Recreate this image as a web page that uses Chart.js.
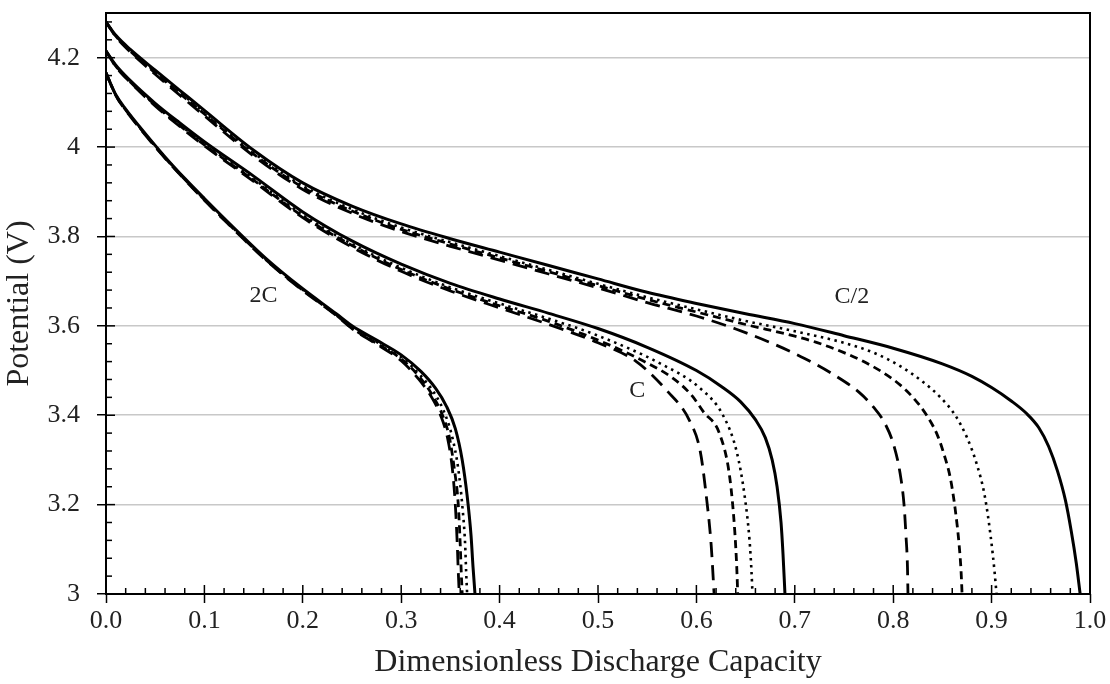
<!DOCTYPE html>
<html>
<head>
<meta charset="utf-8">
<script src="https://cdn.jsdelivr.net/npm/chart.js@4.4.1/dist/chart.umd.min.js"></script>
<style>
  body { margin: 0; background: #fff; }
  #wrap { width: 1110px; height: 684px; }
</style>
</head>
<body>
<div id="wrap"><canvas id="discharge-chart"></canvas></div>
<script>
// [dimensionless capacity, potential V]

// C/2 group
let halfC_solid = [[0,4.28],[0.01,4.25],[0.025,4.218],[0.05,4.172],[0.075,4.127],[0.1,4.082],[0.15,3.993],[0.2,3.92],[0.25,3.868],[0.3,3.828],[0.35,3.795],[0.4,3.765],[0.45,3.735],[0.5,3.705],[0.55,3.675],[0.6,3.65],[0.65,3.627],[0.7,3.605],[0.75,3.578],[0.8,3.55],[0.85,3.515],[0.88,3.487],[0.9,3.462],[0.92,3.432],[0.935,3.405],[0.948,3.372],[0.958,3.33],[0.967,3.275],[0.975,3.21],[0.981,3.14],[0.986,3.07],[0.99,3.0]];
let halfC_dotted = [[0,4.28],[0.01,4.249],[0.025,4.216],[0.05,4.169],[0.075,4.123],[0.1,4.077],[0.15,3.987],[0.2,3.913],[0.25,3.861],[0.3,3.82],[0.35,3.787],[0.4,3.756],[0.45,3.725],[0.5,3.694],[0.55,3.664],[0.6,3.637],[0.65,3.611],[0.7,3.588],[0.75,3.562],[0.78,3.54],[0.807,3.51],[0.83,3.475],[0.848,3.44],[0.863,3.40],[0.875,3.35],[0.885,3.29],[0.893,3.22],[0.899,3.13],[0.903,3.05],[0.905,3.0]];
let halfC_short = [[0,4.28],[0.01,4.248],[0.025,4.214],[0.05,4.166],[0.075,4.12],[0.1,4.074],[0.15,3.984],[0.2,3.91],[0.25,3.857],[0.3,3.816],[0.35,3.783],[0.4,3.752],[0.45,3.721],[0.5,3.69],[0.55,3.659],[0.6,3.631],[0.65,3.603],[0.7,3.577],[0.722,3.563],[0.75,3.54],[0.77,3.52],[0.79,3.495],[0.807,3.468],[0.82,3.44],[0.834,3.40],[0.845,3.355],[0.852,3.31],[0.858,3.26],[0.863,3.19],[0.867,3.11],[0.869,3.05],[0.87,3.0]];
let halfC_long = [[0,4.28],[0.01,4.247],[0.025,4.212],[0.05,4.163],[0.075,4.116],[0.1,4.07],[0.15,3.98],[0.2,3.905],[0.25,3.852],[0.3,3.811],[0.35,3.778],[0.4,3.747],[0.45,3.716],[0.5,3.685],[0.55,3.652],[0.6,3.622],[0.64,3.593],[0.68,3.558],[0.71,3.527],[0.74,3.49],[0.766,3.45],[0.78,3.418],[0.792,3.38],[0.801,3.33],[0.807,3.27],[0.811,3.20],[0.813,3.13],[0.8145,3.06],[0.815,3.0]];

// C group
let oneC_solid = [[0,4.215],[0.01,4.183],[0.025,4.148],[0.05,4.098],[0.075,4.054],[0.1,4.012],[0.15,3.935],[0.2,3.855],[0.25,3.79],[0.3,3.738],[0.35,3.695],[0.4,3.66],[0.45,3.628],[0.5,3.594],[0.55,3.552],[0.6,3.50],[0.625,3.465],[0.645,3.43],[0.66,3.39],[0.67,3.35],[0.677,3.30],[0.682,3.24],[0.686,3.16],[0.688,3.09],[0.69,3.0]];
let oneC_dotted = [[0,4.215],[0.01,4.182],[0.025,4.146],[0.05,4.095],[0.075,4.05],[0.1,4.007],[0.15,3.929],[0.2,3.848],[0.25,3.783],[0.3,3.73],[0.35,3.686],[0.4,3.65],[0.45,3.616],[0.5,3.578],[0.563,3.516],[0.604,3.46],[0.627,3.40],[0.641,3.318],[0.649,3.22],[0.654,3.12],[0.656,3.05],[0.657,3.0]];
let oneC_short = [[0,4.215],[0.01,4.181],[0.025,4.145],[0.05,4.094],[0.075,4.048],[0.1,4.005],[0.15,3.926],[0.2,3.845],[0.25,3.78],[0.3,3.726],[0.35,3.682],[0.4,3.645],[0.45,3.61],[0.5,3.568],[0.54,3.528],[0.576,3.483],[0.595,3.445],[0.607,3.408],[0.624,3.356],[0.634,3.259],[0.639,3.14],[0.641,3.06],[0.642,3.0]];
let oneC_long = [[0,4.215],[0.01,4.18],[0.025,4.144],[0.05,4.092],[0.075,4.046],[0.1,4.003],[0.15,3.923],[0.2,3.842],[0.25,3.776],[0.3,3.722],[0.35,3.678],[0.4,3.64],[0.45,3.603],[0.5,3.562],[0.539,3.52],[0.57,3.455],[0.593,3.388],[0.604,3.318],[0.61,3.22],[0.615,3.11],[0.618,3.0]];

// 2C group
let twoC_solid = [[0,4.166],[0.01,4.117],[0.02,4.085],[0.04,4.03],[0.06,3.978],[0.08,3.93],[0.1,3.885],[0.132,3.815],[0.163,3.75],[0.197,3.688],[0.234,3.627],[0.25,3.60],[0.275,3.568],[0.3,3.535],[0.32,3.498],[0.335,3.46],[0.346,3.42],[0.355,3.37],[0.362,3.30],[0.367,3.22],[0.371,3.13],[0.373,3.06],[0.375,3.0]];
let twoC_dotted = [[0,4.166],[0.01,4.116],[0.02,4.084],[0.04,4.029],[0.06,3.977],[0.08,3.929],[0.1,3.883],[0.132,3.813],[0.163,3.748],[0.197,3.686],[0.234,3.625],[0.25,3.597],[0.275,3.564],[0.3,3.53],[0.32,3.488],[0.335,3.445],[0.345,3.40],[0.352,3.35],[0.358,3.28],[0.362,3.20],[0.365,3.11],[0.366,3.05],[0.367,3.0]];
let twoC_short = [[0,4.166],[0.01,4.116],[0.02,4.083],[0.04,4.028],[0.06,3.976],[0.08,3.928],[0.1,3.882],[0.132,3.812],[0.163,3.747],[0.197,3.685],[0.234,3.624],[0.25,3.595],[0.275,3.561],[0.3,3.526],[0.32,3.482],[0.333,3.44],[0.342,3.40],[0.349,3.35],[0.354,3.28],[0.358,3.20],[0.36,3.11],[0.361,3.05],[0.362,3.0]];
let twoC_long = [[0,4.166],[0.01,4.115],[0.02,4.082],[0.04,4.027],[0.06,3.975],[0.08,3.927],[0.1,3.881],[0.132,3.811],[0.163,3.746],[0.197,3.684],[0.234,3.623],[0.25,3.594],[0.275,3.559],[0.3,3.522],[0.318,3.48],[0.331,3.44],[0.34,3.40],[0.347,3.35],[0.352,3.28],[0.355,3.20],[0.357,3.11],[0.358,3.05],[0.359,3.0]];

let curveNames = ['C/2', 'C', '2C'];
let curveSets = [
  [halfC_solid, halfC_dotted, halfC_short, halfC_long],
  [oneC_solid, oneC_dotted, oneC_short, oneC_long],
  [twoC_solid, twoC_dotted, twoC_short, twoC_long],
];
// where each rate label sits, in data units
let labelAnchors = [[0.758, 3.666], [0.54, 3.455], [0.16, 3.667]];

let dashStyles = [[], [2.5, 4.5], [8, 5], [15, 8]];
let dashWidths = [3, 2.6, 2.8, 2.8];

let datasets = [];
curveSets.forEach((group, g) => {
  group.forEach((pts, k) => {
    datasets.push({
      label: curveNames[g] + ' ' + k,
      data: pts.map(p => ({x: p[0], y: p[1]})),
      showLine: true,
      borderColor: '#000',
      borderWidth: dashWidths[k],
      borderDash: dashStyles[k],
      pointRadius: 0,
      cubicInterpolationMode: 'monotone',
      fill: false,
    });
  });
});

const serif = '"Liberation Serif", "Times New Roman", serif';

// frame, inner tick marks and the rate labels
const framePlugin = {
  id: 'framePlugin',
  afterDraw(chart) {
    const ctx = chart.ctx;
    const a = chart.chartArea;
    const xs = chart.scales.x, ys = chart.scales.y;
    ctx.save();
    ctx.strokeStyle = '#000';
    ctx.lineWidth = 1.5;
    for (let i = 0; i <= 50; i++) {
      const px = xs.getPixelForValue(i * 0.02);
      const len = i % 5 === 0 ? 9 : 6;
      ctx.beginPath();
      ctx.moveTo(px, a.bottom);
      ctx.lineTo(px, a.bottom - len);
      ctx.stroke();
    }
    for (let i = 0; i <= 32; i++) {
      const v = 3 + i * 0.04;
      const py = ys.getPixelForValue(v);
      const len = i % 5 === 0 ? 9 : 6;
      ctx.beginPath();
      ctx.moveTo(a.left, py);
      ctx.lineTo(a.left + len, py);
      ctx.stroke();
    }
    ctx.lineWidth = 2;
    ctx.strokeRect(a.left, a.top, a.right - a.left, a.bottom - a.top);

    ctx.fillStyle = '#222';
    ctx.font = '24px ' + serif;
    ctx.textAlign = 'center';
    ctx.textBaseline = 'middle';
    curveNames.forEach((name, i) => {
      ctx.fillText(name, xs.getPixelForValue(labelAnchors[i][0]), ys.getPixelForValue(labelAnchors[i][1]));
    });
    ctx.restore();
  }
};

new Chart(document.getElementById('discharge-chart'), {
  type: 'scatter',
  data: { datasets: datasets },
  plugins: [framePlugin],
  options: {
    responsive: true,
    maintainAspectRatio: false,
    animation: false,
    layout: { padding: { top: 13, right: 20, left: 0, bottom: 0 } },
    plugins: { legend: { display: false }, tooltip: { enabled: false } },
    scales: {
      x: {
        type: 'linear',
        min: 0,
        max: 1,
        afterFit: s => { s.height = 90; },
        ticks: {
          stepSize: 0.1,
          color: '#222',
          font: { family: serif, size: 26 },
          padding: 3,
          callback: v => v.toFixed(1),
        },
        grid: { drawOnChartArea: false, tickLength: 9, tickColor: '#000', tickWidth: 1.5 },
        border: { display: false },
        title: {
          display: true,
          text: 'Dimensionless Discharge Capacity',
          color: '#222',
          font: { family: serif, size: 32 },
          padding: { top: 0, bottom: 2 },
        },
      },
      y: {
        type: 'linear',
        min: 3,
        max: 4.3,
        afterFit: s => { s.width = 106; s.paddingTop = 0; s.paddingBottom = 0; },
        afterBuildTicks: s => { s.ticks = s.ticks.filter(t => t.value <= 4.2001); },
        ticks: {
          stepSize: 0.2,
          color: '#222',
          font: { family: serif, size: 26 },
          padding: 17,
          callback: v => String(Number(v.toFixed(1))),
        },
        grid: { color: '#c8c8c8', lineWidth: 1.5, tickLength: 9, tickColor: '#000', tickWidth: 1.5 },
        border: { display: false },
        title: {
          display: true,
          text: 'Potential (V)',
          color: '#222',
          font: { family: serif, size: 32 },
          padding: { top: 0, bottom: 2 },
        },
      },
    },
  },
});
</script>
</body>
</html>
